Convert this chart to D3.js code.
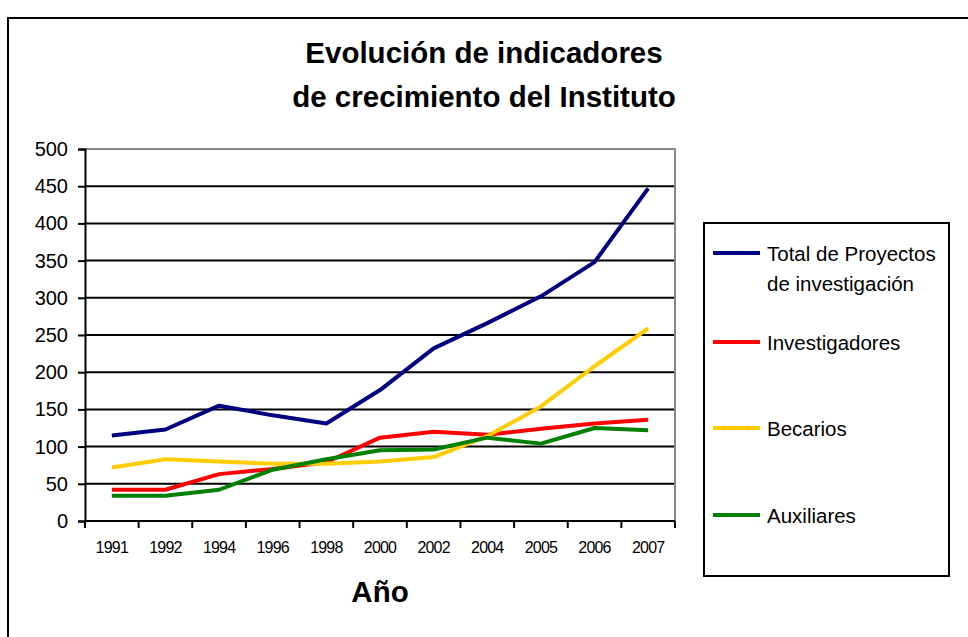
<!DOCTYPE html>
<html>
<head>
<meta charset="utf-8">
<script src="https://cdn.jsdelivr.net/npm/d3@7"></script>
<style>
  body { margin: 0; background: #fff; }
  svg { display: block; font-family: "Liberation Sans", Arial, sans-serif; }
</style>
</head>
<body>
<svg id="chart"></svg>
<script>
const years = ["1991", "1992", "1994", "1996", "1998", "2000", "2002", "2004", "2005", "2006", "2007"];
const proyectos = [115, 123, 155, 142, 131, 176, 232, 266, 302, 348, 447];
const investigadores = [42, 42, 63, 70, 79, 112, 120, 116, 124, 131, 136];
const becarios = [72, 83, 80, 77, 77, 80, 86, 114, 154, 208, 259];
const auxiliares = [34, 34, 42, 69, 83, 95, 96, 112, 104, 125, 122];
const yTicks = [0, 50, 100, 150, 200, 250, 300, 350, 400, 450, 500];
const seriesNames = ["Total de Proyectos|de investigación", "Investigadores", "Becarios", "Auxiliares"];
const seriesColors = ["#000080", "#ff0000", "#ffcc00", "#008000"];

const width = 968, height = 637;
const svg = d3.select("#chart").attr("width", width).attr("height", height);

// outer chart border (runs off the right and bottom edge)
svg.append("rect")
  .attr("x", 8).attr("y", 18).attr("width", 980).attr("height", 640)
  .attr("fill", "none").attr("stroke", "#000").attr("stroke-width", 2);

// title
const title = svg.append("text")
  .attr("text-anchor", "middle")
  .style("font-size", "29.5px").style("font-weight", "bold");
title.append("tspan").attr("x", 484).attr("y", 63).text("Evolución de indicadores");
title.append("tspan").attr("x", 484).attr("y", 107).text("de crecimiento del Instituto");

const x = d3.scaleBand().domain(years).range([85, 675]).padding(0);
const y = d3.scaleLinear().domain([0, 500]).range([521, 149]);
const cx = d => x(d) + x.bandwidth() / 2;

// gridlines
svg.append("g").selectAll("line")
  .data(yTicks.filter(t => t > 0 && t < 500))
  .join("line")
  .attr("x1", 85).attr("x2", 675)
  .attr("y1", d => y(d)).attr("y2", d => y(d))
  .attr("stroke", "#000").attr("stroke-width", 2);

// plot area border (top / right in grey)
svg.append("path")
  .attr("d", `M85,${y(500)}H675V${y(0)}`)
  .attr("fill", "none").attr("stroke", "#888").attr("stroke-width", 2);

// y axis
const yAxis = svg.append("g")
  .attr("transform", "translate(85,0)")
  .call(d3.axisLeft(y).tickValues(yTicks).tickSize(7).tickPadding(10));
yAxis.select(".domain").attr("stroke", "#000").attr("stroke-width", 2);
yAxis.selectAll(".tick line").attr("stroke", "#000").attr("stroke-width", 2);
yAxis.selectAll(".tick text")
  .style("font-size", "20px").style("font-family", "Liberation Sans, Arial, sans-serif")
  .attr("fill", "#000");

// x axis: ticks at band edges
const xAxis = svg.append("g").attr("transform", `translate(0,${y(0)})`);
xAxis.append("line")
  .attr("x1", 85).attr("x2", 675)
  .attr("stroke", "#000").attr("stroke-width", 2);
const edges = years.map(d => x(d)).concat([x(years[years.length - 1]) + x.bandwidth()]);
xAxis.selectAll("line.tk")
  .data(edges)
  .join("line").attr("class", "tk")
  .attr("x1", d => d).attr("x2", d => d)
  .attr("y1", 0).attr("y2", 7)
  .attr("stroke", "#000").attr("stroke-width", 2);
xAxis.selectAll("text")
  .data(years)
  .join("text")
  .attr("x", d => cx(d)).attr("y", 32)
  .attr("text-anchor", "middle")
  .style("font-size", "16px").style("letter-spacing", "-0.8px")
  .text(d => d);

// axis title
svg.append("text")
  .attr("x", 380).attr("y", 602)
  .attr("text-anchor", "middle")
  .style("font-size", "29.5px").style("font-weight", "bold")
  .text("Año");

// series lines
const allSeries = [proyectos, investigadores, becarios, auxiliares];
const line = d3.line().x((d, i) => cx(years[i])).y(d => y(d));
svg.append("g").selectAll("path")
  .data(allSeries)
  .join("path")
  .attr("d", d => line(d))
  .attr("fill", "none")
  .attr("stroke", (d, i) => seriesColors[i])
  .attr("stroke-width", 4)
  .attr("stroke-linejoin", "round");

// legend
const legend = svg.append("g");
legend.append("rect")
  .attr("x", 704).attr("y", 223).attr("width", 245).attr("height", 353)
  .attr("fill", "#fff").attr("stroke", "#000").attr("stroke-width", 2);
const legendY = [253, 342, 428, 515];
const items = legend.selectAll("g.item")
  .data(seriesNames)
  .join("g").attr("class", "item")
  .attr("transform", (d, i) => `translate(0,${legendY[i]})`);
items.append("line")
  .attr("x1", 713).attr("x2", 760)
  .attr("stroke", (d, i) => seriesColors[i]).attr("stroke-width", 4);
items.append("text")
  .attr("x", 767).attr("y", 8)
  .style("font-size", "20.5px")
  .each(function (d) {
    const parts = d.split("|");
    d3.select(this).selectAll("tspan")
      .data(parts)
      .join("tspan")
      .attr("x", 767)
      .attr("dy", (p, j) => j === 0 ? 0 : 30)
      .text(p => p);
  });
</script>
</body>
</html>
